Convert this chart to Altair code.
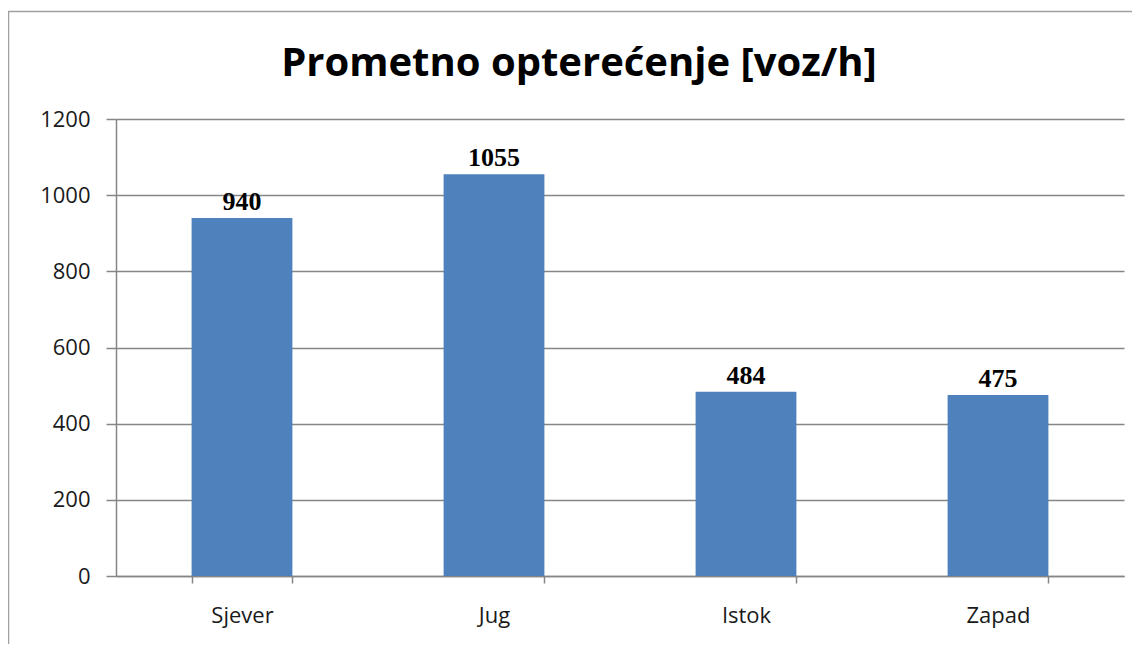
import altair as alt
import pandas as pd

categories = ["Sjever", "Jug", "Istok", "Zapad"]
values = [940, 1055, 484, 475]
y_ticks = [0, 200, 400, 600, 800, 1000, 1200]

df = pd.DataFrame({"smjer": categories, "vrijednost": values})

base = alt.Chart(df).encode(
    x=alt.X(
        "smjer:N",
        sort=categories,
        title=None,
        scale=alt.Scale(paddingInner=0.6, paddingOuter=0.3),
        axis=alt.Axis(
            labelAngle=0,
            labelFont="Open Sans",
            labelFontSize=22,
            labelColor="#1a1a1a",
            labelPadding=22,
            tickBand="extent",
            tickSize=7,
            tickColor="#868686",
            domainColor="#868686",
            domainWidth=1.5,
            tickWidth=1.5,
            grid=False,
        ),
    ),
    y=alt.Y(
        "vrijednost:Q",
        title=None,
        scale=alt.Scale(domain=[0, 1200], nice=False),
        axis=alt.Axis(
            values=y_ticks,
            format="d",
            labelFont="Open Sans",
            labelFontSize=22,
            labelColor="#1a1a1a",
            labelPadding=16,
            tickSize=10,
            tickColor="#868686",
            tickWidth=1.5,
            domainColor="#868686",
            domainWidth=1.5,
            gridColor="#868686",
            gridWidth=1.5,
        ),
    ),
)

bars = base.mark_bar(color="#4F81BD")
labels = base.mark_text(
    font="Liberation Serif",
    fontWeight="bold",
    fontSize=26,
    dy=-8,
    baseline="alphabetic",
    color="#000000",
).encode(text="vrijednost:Q")

frame_df = pd.DataFrame({"a": [0]})
left_border = alt.Chart(frame_df).mark_rule(color="#a0a0a0", strokeWidth=1.5).encode(
    x=alt.value(-107.5), y=alt.value(-108), y2=alt.value(600)
)
top_border = alt.Chart(frame_df).mark_rule(color="#a0a0a0", strokeWidth=1.5).encode(
    x=alt.value(-108), x2=alt.value(1040), y=alt.value(-107.5)
)

chart = (
    alt.layer(left_border, top_border, bars, labels)
    .properties(
        width=1008,
        height=457,
        autosize=alt.AutoSizeParams(type="none"),
        padding={"left": 108, "top": 111, "right": 8, "bottom": 68},
        title=alt.TitleParams(
            "Prometno opterećenje [voz/h]",
            font="Open Sans",
            fontSize=40,
            fontWeight="bold",
            color="#000000",
            anchor="middle",
            baseline="alphabetic",
            dx=-41,
            offset=-106,
        ),
    )
    .configure_view(stroke=None)
)

chart.save("out.html", embed_options={"renderer": "svg", "actions": False})
